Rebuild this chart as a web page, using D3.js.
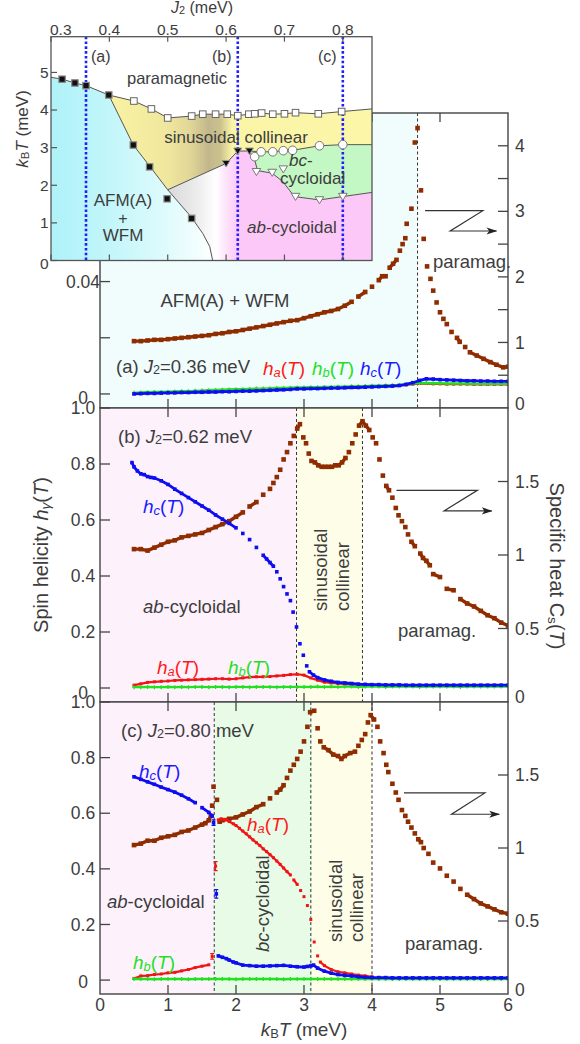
<!DOCTYPE html>
<html><head><meta charset="utf-8">
<script src="https://cdn.jsdelivr.net/npm/d3@7"></script>
<style>body{margin:0;background:#fff} svg{display:block} text{white-space:pre}</style>
</head><body>
<svg id="chart" width="580" height="1044"></svg>
<script>
// ---------------- DATA ----------------
const T10 = [0.5,0.6,0.7,0.8,0.9,1.0,1.1,1.2,1.3,1.4,1.5,1.6,1.7,1.8,1.9,2.0,2.1,2.2,2.3,2.4,2.5,2.6,2.7,2.8,2.9,3.0,3.1,3.2,3.3,3.4,3.5,3.6,3.7,3.8,3.9,4.0,4.1,4.2,4.3,4.4,4.5,4.6,4.7,4.8,4.9,5.0,5.1,5.2,5.3,5.4,5.5,5.6,5.7,5.8,5.9,6.0];
const xTicks = [0,1,2,3,4,5,6];

// panel (a) J2 = 0.36 meV
const transA = [4.67];
const tCa = [0.5,0.6,0.7,0.8,0.9,1.0,1.1,1.2,1.3,1.4,1.5,1.6,1.7,1.8,1.9,2.0,2.1,2.2,2.3,2.4,2.5,2.6,2.7,2.8,2.9,3.0,3.1,3.2,3.3,3.4,3.5,3.6,3.7,3.8,3.9,4.0,4.1,4.15,4.2,4.26,4.31,4.36,4.41,4.45,4.49,4.51,4.58,4.63,4.67,4.72,4.76,4.81,4.86,4.90,4.95,5.0,5.05,5.1,5.17,5.25,5.29,5.37,5.44,5.54,5.64,5.74,5.83,5.93,6.0];
const cA = [1.02,1.02,1.03,1.04,1.04,1.05,1.06,1.07,1.08,1.09,1.10,1.11,1.13,1.14,1.16,1.17,1.19,1.21,1.23,1.25,1.27,1.29,1.31,1.33,1.34,1.37,1.40,1.43,1.46,1.48,1.51,1.56,1.62,1.70,1.77,1.85,1.95,2.01,2.01,2.14,2.20,2.26,2.40,2.50,2.59,2.81,3.04,4.05,4.27,3.32,2.58,2.16,1.97,1.79,1.61,1.46,1.36,1.28,1.16,1.07,1.01,0.93,0.85,0.80,0.75,0.70,0.66,0.62,0.63];
const haA = [0.0002,0.0003,0.0004,0.0005,0.0005,0.0006,0.0007,0.0008,0.0008,0.0009,0.0010,0.0011,0.0012,0.0013,0.0014,0.0015,0.0015,0.0016,0.0017,0.0017,0.0018,0.0019,0.0019,0.0020,0.0021,0.0021,0.0022,0.0022,0.0023,0.0023,0.0024,0.0024,0.0025,0.0025,0.0026,0.0027,0.0027,0.0028,0.0029,0.0030,0.0032,0.0035,0.0037,0.0037,0.0036,0.0036,0.0035,0.0035,0.0035,0.0035,0.0034,0.0034,0.0034,0.0034,0.0034,0.0034];
const hbA = [0.0004,0.0005,0.0006,0.0007,0.0007,0.0008,0.0009,0.0010,0.0010,0.0011,0.0012,0.0013,0.0014,0.0015,0.0016,0.0017,0.0017,0.0018,0.0019,0.0019,0.0020,0.0021,0.0021,0.0022,0.0023,0.0023,0.0024,0.0024,0.0025,0.0025,0.0026,0.0026,0.0027,0.0027,0.0028,0.0029,0.0029,0.0030,0.0031,0.0032,0.0034,0.0037,0.0039,0.0039,0.0038,0.0038,0.0037,0.0037,0.0037,0.0037,0.0036,0.0036,0.0036,0.0036,0.0036,0.0036];
const hcA = [0.0000,0.0001,0.0002,0.0002,0.0003,0.0004,0.0004,0.0005,0.0005,0.0006,0.0006,0.0007,0.0007,0.0008,0.0008,0.0009,0.0010,0.0010,0.0011,0.0012,0.0013,0.0014,0.0015,0.0016,0.0018,0.0018,0.0019,0.0019,0.0020,0.0021,0.0021,0.0022,0.0023,0.0023,0.0024,0.0025,0.0026,0.0027,0.0028,0.0030,0.0034,0.0040,0.0048,0.0054,0.0053,0.0051,0.0050,0.0049,0.0048,0.0047,0.0047,0.0046,0.0046,0.0045,0.0045,0.0045];

// panel (b) J2 = 0.62 meV
const transB = [2.89, 3.86];
const tCb = [0.5,0.6,0.7,0.8,0.9,1.0,1.1,1.2,1.3,1.4,1.5,1.6,1.7,1.8,1.9,2.0,2.1,2.2,2.3,2.4,2.5,2.55,2.6,2.65,2.7,2.75,2.8,2.85,2.9,2.94,2.99,3.03,3.07,3.11,3.16,3.21,3.26,3.31,3.36,3.41,3.46,3.51,3.56,3.61,3.66,3.71,3.76,3.81,3.86,3.91,3.96,4.01,4.06,4.11,4.16,4.21,4.25,4.30,4.35,4.39,4.44,4.49,4.53,4.58,4.63,4.71,4.75,4.80,4.85,4.90,5.0,5.1,5.2,5.3,5.4,5.5,5.6,5.7,5.8,5.9,6.0];
const cB = [1.04,1.04,1.03,1.05,1.07,1.09,1.10,1.12,1.13,1.14,1.15,1.17,1.19,1.21,1.23,1.26,1.29,1.33,1.36,1.41,1.45,1.49,1.53,1.58,1.65,1.70,1.76,1.81,1.86,1.89,1.80,1.76,1.69,1.64,1.63,1.61,1.60,1.60,1.60,1.60,1.61,1.61,1.63,1.66,1.70,1.76,1.82,1.88,1.91,1.88,1.85,1.80,1.76,1.65,1.54,1.47,1.44,1.39,1.32,1.27,1.23,1.19,1.14,1.09,1.06,1.01,0.98,0.96,0.93,0.87,0.85,0.77,0.76,0.70,0.67,0.65,0.62,0.59,0.57,0.54,0.52];
const haB = [0.010,0.015,0.020,0.022,0.024,0.025,0.027,0.028,0.029,0.030,0.031,0.032,0.033,0.033,0.032,0.033,0.036,0.039,0.040,0.040,0.041,0.043,0.045,0.048,0.049,0.046,0.036,0.028,0.021,0.018,0.016,0.014,0.013,0.012,0.011,0.010,0.010,0.009,0.009,0.009,0.008,0.008,0.008,0.008,0.008,0.008,0.008,0.008,0.008,0.008,0.008,0.008,0.008,0.008,0.008,0.008];
const hbB = [0.003,0.003,0.004,0.003,0.003,0.004,0.003,0.004,0.003,0.004,0.004,0.003,0.004,0.004,0.003,0.004,0.004,0.003,0.004,0.004,0.004,0.003,0.004,0.004,0.004,0.004,0.004,0.005,0.004,0.005,0.004,0.005,0.005,0.004,0.005,0.005,0.005,0.004,0.005,0.005,0.005,0.005,0.004,0.005,0.005,0.005,0.005,0.005,0.004,0.005,0.005,0.005,0.005,0.005,0.005,0.005];
const tHcB = [0.47,0.5,0.55,0.6,0.65,0.7,0.75,0.8,0.9,1.0,1.1,1.2,1.3,1.4,1.5,1.6,1.7,1.8,1.9,2.0,2.1,2.2,2.3,2.4,2.45,2.5,2.55,2.6,2.65,2.7,2.75,2.8,2.84,2.89,2.94,2.99,3.04,3.08,3.14,3.2,3.3,3.4,3.5,3.6,3.7,3.8,3.9,4.0,4.1,4.2,4.3,4.4,4.5,4.6,4.7,4.8,4.9,5.0,5.1,5.2,5.3,5.4,5.5,5.6,5.7,5.8,5.9,6.0];
const hcB = [0.805,0.79,0.775,0.765,0.762,0.755,0.752,0.75,0.74,0.727,0.71,0.695,0.68,0.665,0.65,0.635,0.618,0.603,0.588,0.572,0.552,0.53,0.502,0.474,0.461,0.448,0.435,0.415,0.39,0.362,0.336,0.312,0.271,0.218,0.158,0.117,0.079,0.058,0.046,0.037,0.029,0.024,0.020,0.018,0.016,0.014,0.013,0.012,0.012,0.011,0.011,0.011,0.010,0.010,0.010,0.010,0.010,0.010,0.010,0.010,0.010,0.010,0.010,0.010,0.010,0.010,0.010,0.010];

// panel (c) J2 = 0.80 meV
const transC = [1.68, 3.10, 4.0];
const tCc = [0.5,0.6,0.7,0.8,0.9,1.0,1.1,1.2,1.3,1.4,1.5,1.55,1.6,1.63,1.65,1.67,1.72,1.76,1.8,1.9,2.0,2.1,2.2,2.3,2.4,2.5,2.6,2.65,2.7,2.75,2.8,2.85,2.9,2.95,3.0,3.05,3.09,3.15,3.20,3.24,3.29,3.36,3.43,3.50,3.55,3.60,3.68,3.75,3.80,3.85,3.90,3.94,3.98,4.03,4.08,4.12,4.17,4.21,4.24,4.30,4.35,4.39,4.44,4.49,4.53,4.58,4.63,4.68,4.72,4.76,4.83,4.90,5.0,5.1,5.2,5.3,5.4,5.5,5.6,5.7,5.8,5.9,6.0];
const cC = [1.02,1.03,1.05,1.05,1.07,1.08,1.09,1.11,1.12,1.14,1.16,1.17,1.19,1.22,1.29,1.42,1.33,1.18,1.19,1.20,1.21,1.23,1.25,1.28,1.30,1.34,1.38,1.40,1.43,1.48,1.53,1.57,1.61,1.66,1.73,1.83,1.93,1.94,1.82,1.73,1.69,1.67,1.64,1.63,1.61,1.63,1.65,1.66,1.70,1.74,1.78,1.86,1.91,1.88,1.83,1.73,1.65,1.57,1.52,1.44,1.38,1.33,1.26,1.22,1.18,1.14,1.10,1.06,1.04,1.00,0.96,0.90,0.86,0.81,0.77,0.72,0.68,0.65,0.62,0.60,0.58,0.56,0.55];
const tHaC = [0.5,0.6,0.7,0.8,0.9,1.0,1.1,1.2,1.3,1.4,1.5,1.6,1.65,1.70,1.74,1.78,1.82,1.86,1.9,1.96,2.0,2.05,2.1,2.15,2.2,2.25,2.3,2.35,2.4,2.45,2.5,2.55,2.6,2.65,2.7,2.75,2.8,2.85,2.9,2.95,3.0,3.05,3.1,3.15,3.2,3.24,3.3,3.4,3.5,3.6,3.7,3.8,3.9,4.0];
const haC = [0.006,0.015,0.016,0.020,0.022,0.026,0.028,0.033,0.038,0.045,0.050,0.055,0.085,0.410,0.576,0.580,0.578,0.576,0.570,0.562,0.556,0.546,0.536,0.526,0.515,0.504,0.494,0.484,0.472,0.462,0.451,0.440,0.428,0.416,0.403,0.390,0.378,0.360,0.344,0.322,0.300,0.268,0.218,0.137,0.087,0.065,0.052,0.038,0.030,0.026,0.022,0.018,0.015,0.012];
const hbC = [0.004,0.004,0.004,0.003,0.004,0.004,0.004,0.004,0.003,0.004,0.004,0.004,0.004,0.004,0.004,0.003,0.004,0.004,0.004,0.004,0.004,0.004,0.003,0.004,0.004,0.004,0.004,0.004,0.004,0.004,0.004,0.004,0.004,0.004,0.004,0.004,0.004,0.004,0.004,0.004,0.004,0.004,0.004,0.004,0.004,0.004,0.004,0.004,0.004,0.004,0.004,0.004,0.004,0.004,0.004,0.004];
const tHcC = [0.5,0.6,0.7,0.8,0.9,1.0,1.1,1.2,1.3,1.4,1.5,1.6,1.65,1.67,1.71,1.74,1.8,1.86,1.9,1.96,2.0,2.1,2.2,2.3,2.4,2.5,2.6,2.7,2.8,2.9,3.0,3.05,3.1,3.14,3.2,3.3,3.4,3.5,3.6,3.7,3.8,3.9,4.0,4.1,4.2,4.3,4.4,4.5,4.6,4.7,4.8,4.9,5.0,5.1,5.2,5.3,5.4,5.5,5.6,5.7,5.8,5.9,6.0];
const hcC = [0.731,0.722,0.713,0.704,0.694,0.685,0.676,0.665,0.652,0.638,0.620,0.603,0.590,0.566,0.310,0.087,0.082,0.077,0.072,0.065,0.062,0.054,0.052,0.050,0.050,0.051,0.052,0.053,0.050,0.048,0.047,0.049,0.051,0.054,0.043,0.032,0.025,0.020,0.017,0.015,0.012,0.010,0.009,0.009,0.009,0.008,0.008,0.008,0.008,0.008,0.008,0.008,0.008,0.008,0.008,0.008,0.008,0.008,0.008,0.008,0.008,0.008,0.008];
// error bars at the ab->bc transition of panel (c)
const errT = [1.67, 1.71, 1.65, 1.70];
const errV = [0.566, 0.310, 0.085, 0.410];
const errE = [0.010, 0.015, 0.010, 0.016];
const errS = ['c', 'c', 'a', 'a'];

// "Z" arrow pointers (T, Cs) meaning "right axis"
const zA = [[4.78,3.01],[5.63,3.01],[5.15,2.70],[5.83,2.70]];
const zB = [[4.36,1.44],[5.55,1.44],[5.06,1.30],[5.76,1.30]];
const zC = [[4.47,1.377],[5.66,1.377],[5.17,1.231],[5.87,1.231]];

// ---- inset phase diagram (J2, kBT) ----
const jTicks = [0.3,0.4,0.5,0.6,0.7,0.8];
const kTicks = [0,1,2,3,4,5];
const jCuts = [0.36, 0.62, 0.80];
const jCutLabels = ['(a)','(b)','(c)'];
const bPara = [[0.30,4.87],[0.319,4.82],[0.341,4.72],[0.360,4.65],[0.399,4.40],[0.442,4.24],[0.472,4.03],[0.500,3.79],[0.541,3.84],[0.560,3.89],[0.582,3.89],[0.602,3.89],[0.620,3.85],[0.639,3.89],[0.649,3.90],[0.661,3.92],[0.680,3.89],[0.700,3.90],[0.719,3.93],[0.758,3.90],[0.798,3.96],[0.85,4.03]];
const bAfm = [[0.399,4.40],[0.441,3.07],[0.470,2.49],[0.500,1.88],[0.540,1.16],[0.560,0.72],[0.572,0.37],[0.577,0]];
const bYel = [[0.500,1.88],[0.600,2.58],[0.620,2.91],[0.640,2.91],[0.660,2.89],[0.680,2.89],[0.698,2.92],[0.714,2.93],[0.760,3.05],[0.800,3.08],[0.85,3.08]];
const bGreen = [[0.640,2.91],[0.649,2.67],[0.654,2.39],[0.679,2.32],[0.697,2.10],[0.717,1.70],[0.760,1.61],[0.800,1.70],[0.85,1.81]];
const ptSqFilled = [[0.319,4.82],[0.341,4.72],[0.360,4.65],[0.399,4.40],[0.441,3.07],[0.469,2.49],[0.499,1.64],[0.541,1.12]];
const ptSqOpen = [[0.442,4.24],[0.472,4.03],[0.500,3.79],[0.541,3.84],[0.560,3.89],[0.582,3.89],[0.602,3.89],[0.620,3.85],[0.639,3.89],[0.649,3.90],[0.661,3.92],[0.680,3.89],[0.700,3.90],[0.719,3.93],[0.758,3.90],[0.798,3.96]];
const ptTriFilled = [[0.600,2.58],[0.620,2.91],[0.640,2.91]];
const ptCircle = [[0.649,2.76],[0.660,2.89],[0.680,2.89],[0.698,2.92],[0.714,2.93],[0.760,3.05],[0.800,3.08]];
const ptTriOpen = [[0.652,2.36],[0.679,2.34],[0.698,2.43],[0.719,1.70],[0.760,1.61],[0.800,1.70]];

// ---------------- DRAWING ----------------
const FONT = "'Liberation Sans', Arial, Helvetica, sans-serif";
const TXT = '#3d3d3d';
const COL = {C:'#8f2d00', a:'#f01414', b:'#22e022', c:'#0d0df2', la:'#ff1a1a', lb:'#1fe01f', lc:'#1a1aff'};
const svg = d3.select('#chart');
const defs = svg.append('defs');
defs.append('marker').attr('id','ah').attr('viewBox','0 0 12 10').attr('refX',11).attr('refY',5)
  .attr('markerWidth',12).attr('markerHeight',9).attr('markerUnits','userSpaceOnUse').attr('orient','auto')
  .append('path').attr('d','M0,1 L12,5 L0,9 L3,5 Z').attr('fill','#222');

function rich(g, x0, y0, parts, o) {
  o = Object.assign({size:18.5, anchor:'start', color:TXT, rotate:0}, o);
  const t = g.append('text').attr('x',x0).attr('y',y0).attr('font-family',FONT)
    .attr('font-size',o.size).attr('fill',o.color).attr('text-anchor',o.anchor);
  if (o.rotate) t.attr('transform',`rotate(${o.rotate},${x0},${y0})`);
  let down = false;
  parts.forEach(p => {
    const [s, st] = Array.isArray(p) ? [p[0], p[1]||''] : [p, ''];
    const sp = t.append('tspan').text(s);
    if (st.includes('i')) sp.attr('font-style','italic');
    if (st.includes('s')) { sp.attr('font-size', o.size*0.68); if (!down) { sp.attr('dy', o.size*0.08); down = true; } }
    else if (down) { sp.attr('dy', -o.size*0.08); down = false; }
  });
  return t;
}

const x = d3.scaleLinear([0,6],[100,508]);
const line = d3.line();

function drawSeries(g, ts, vs, ys, color, o) {
  const n = Math.min(ts.length, vs.length);
  const pts = [];
  for (let i = 0; i < n; i++) pts.push([x(ts[i]), ys(vs[i])]);
  const runs = []; let cur = [pts[0]];
  for (let i = 1; i < n; i++) {
    const dx = Math.abs(pts[i][0]-pts[i-1][0]), dy = Math.abs(pts[i][1]-pts[i-1][1]);
    if (dx <= o.gx && dy <= o.gy) cur.push(pts[i]); else { runs.push(cur); cur = [pts[i]]; }
  }
  runs.push(cur);
  runs.filter(r => r.length > 1).forEach(r => g.append('path').attr('d', line(r)).attr('fill','none')
    .attr('stroke', color).attr('stroke-width', o.lw).attr('stroke-linejoin','round'));
  if (o.shape === 'square') {
    g.selectAll(null).data(pts).join('rect').attr('x', d => d[0]-o.s/2).attr('y', d => d[1]-o.s/2)
      .attr('width', o.s).attr('height', o.s).attr('fill', color);
  } else {
    g.selectAll(null).data(pts).join('path')
      .attr('d', d => `M${d[0]-o.s/2},${d[1]}h${o.s}M${d[0]},${d[1]-o.s/2}v${o.s}`)
      .attr('stroke', color).attr('stroke-width', 1.3);
  }
}

const panels = [
  {key:'a', top:113, bot:408, h:d3.scaleLinear([-0.005,0.1],[408,113]), c:d3.scaleLinear([0,4.5],[408,113]),
   bands:[[0, transA[0], '#f1fcfd']], trans:transA, z:zA,
   hTicks:[0,0.02,0.04,0.06,0.08], hLab:{'0.04':'0.04','0.08':'0.08'}, hZero:398,
   cTicks:[0.5,1,1.5,2,2.5,3,3.5,4], cLab:{'1':'1','2':'2','3':'3','4':'4'}, cZero:404,
   C:[tCa,cA], ha:[T10,haA], hb:[T10,hbA], hc:[T10,hcA]},
  {key:'b', top:408, bot:702, h:d3.scaleLinear([-0.05,1.0],[702,408]), c:d3.scaleLinear([0,2],[702,408]),
   bands:[[0, transB[0], '#fdf1fc'], [transB[0], transB[1], '#fefee8']], trans:transB, z:zB,
   hTicks:[0,0.2,0.4,0.6,0.8,1.0], hLab:{'0.2':'0.2','0.4':'0.4','0.6':'0.6','0.8':'0.8','1':'1.0'}, hZero:693,
   cTicks:[0.5,1,1.5], cLab:{'0.5':'0.5','1':'1','1.5':'1.5'}, cZero:697,
   C:[tCb,cB], ha:[T10,haB], hb:[T10,hbB], hc:[tHcB,hcB]},
  {key:'c', top:702, bot:994, h:d3.scaleLinear([-0.05,1.0],[994,702]), c:d3.scaleLinear([0,2],[994,702]),
   bands:[[0, transC[0], '#fdf1fc'], [transC[0], transC[1]+0.02, '#e7fbe7'], [transC[1]+0.02, transC[2], '#fefee8']], trans:transC, z:zC,
   hTicks:[0,0.2,0.4,0.6,0.8,1.0], hLab:{'0.2':'0.2','0.4':'0.4','0.6':'0.6','0.8':'0.8','1':'1.0'}, hZero:982,
   cTicks:[0.5,1,1.5], cLab:{'0.5':'0.5','1':'1','1.5':'1.5'}, cZero:990,
   C:[tCc,cC], ha:[tHaC,haC], hb:[T10,hbC], hc:[tHcC,hcC]},
];

panels.forEach(p => {
  const clipId = 'clip-' + p.key;
  defs.append('clipPath').attr('id', clipId).append('rect')
    .attr('x', x(0)).attr('y', p.top).attr('width', x(6)-x(0)).attr('height', p.bot-p.top);
  const g = svg.append('g');
  const gc = g.append('g').attr('clip-path', `url(#${clipId})`);
  gc.append('rect').attr('x', x(0)).attr('y', p.top).attr('width', x(6)-x(0)).attr('height', p.bot-p.top).attr('fill', '#fff');
  p.bands.forEach(b => gc.append('rect').attr('x', x(b[0])).attr('y', p.top).attr('width', x(b[1])-x(b[0]))
    .attr('height', p.bot-p.top).attr('fill', b[2]));
  p.trans.forEach(t => gc.append('line').attr('x1', x(t)).attr('x2', x(t)).attr('y1', p.top).attr('y2', p.bot)
    .attr('stroke', '#333').attr('stroke-width', 1).attr('stroke-dasharray', '3,2.5'));
  // data
  drawSeries(gc, p.C[0], p.C[1], p.c, COL.C, {gx:8, gy:5, lw:3.4, shape:'square', s:4.6});
  drawSeries(gc, p.ha[0], p.ha[1], p.h, COL.a, {gx:8, gy:5, lw:2.2, shape:'square', s:3});
  drawSeries(gc, p.hb[0], p.hb[1], p.h, COL.b, {gx:8, gy:5, lw:2.4, shape:'cross', s:4});
  drawSeries(gc, p.hc[0], p.hc[1], p.h, COL.c, {gx:8, gy:5, lw:2.8, shape:'square', s:3.6});
  if (p.key === 'c') {
    errT.forEach((t, i) => {
      const col = errS[i] === 'c' ? COL.c : COL.a;
      const x0 = x(t), y1 = p.h(errV[i]-errE[i]), y2 = p.h(errV[i]+errE[i]);
      gc.append('path').attr('d', `M${x0},${y1}V${y2}M${x0-2},${y1}h4M${x0-2},${y2}h4`).attr('stroke', col).attr('stroke-width', 1.2).attr('fill','none');
    });
  }
  // Z arrow toward right axis
  gc.append('path').attr('d', line(p.z.map(d => [x(d[0]), p.c(d[1])]))).attr('fill','none')
    .attr('stroke', '#333').attr('stroke-width', 1.2).attr('marker-end', 'url(#ah)');
  // frame
  g.append('rect').attr('x', x(0)).attr('y', p.top).attr('width', x(6)-x(0)).attr('height', p.bot-p.top)
    .attr('fill','none').attr('stroke','#444').attr('stroke-width',1.4);
  // x ticks (inward, top and bottom)
  xTicks.slice(1, -1).forEach(t => {
    g.append('line').attr('x1', x(t)).attr('x2', x(t)).attr('y1', p.bot).attr('y2', p.bot-9).attr('stroke','#444').attr('stroke-width',1.3);
    g.append('line').attr('x1', x(t)).attr('x2', x(t)).attr('y1', p.top).attr('y2', p.top+9).attr('stroke','#444').attr('stroke-width',1.3);
  });
  // left ticks and labels
  p.hTicks.forEach(v => {
    g.append('line').attr('x1', x(0)).attr('x2', x(0)+10).attr('y1', p.h(v)).attr('y2', p.h(v)).attr('stroke','#444').attr('stroke-width',1.3);
    const lab = p.hLab[String(v)];
    if (lab) g.append('text').attr('x', 83).attr('y', p.h(v)).attr('dy','0.35em').attr('text-anchor','middle')
      .attr('font-family', FONT).attr('font-size', 17.5).attr('fill', TXT).text(lab);
  });
  g.append('text').attr('x', 83).attr('y', p.hZero).attr('dy','0.35em').attr('text-anchor','middle')
    .attr('font-family', FONT).attr('font-size', 17.5).attr('fill', TXT).text('0');
  // right ticks and labels
  p.cTicks.forEach(v => {
    g.append('line').attr('x1', x(6)).attr('x2', x(6)-10).attr('y1', p.c(v)).attr('y2', p.c(v)).attr('stroke','#444').attr('stroke-width',1.3);
    const lab = p.cLab[String(v)];
    if (lab) g.append('text').attr('x', 515).attr('y', p.c(v)).attr('dy','0.35em').attr('text-anchor','start')
      .attr('font-family', FONT).attr('font-size', 17.5).attr('fill', TXT).text(lab);
  });
  g.append('text').attr('x', 515).attr('y', p.cZero).attr('dy','0.35em').attr('text-anchor','start')
    .attr('font-family', FONT).attr('font-size', 17.5).attr('fill', TXT).text('0');
  p.g = g;
});

// x tick labels + title
xTicks.forEach(t => svg.append('text').attr('x', x(t)).attr('y', 1011).attr('text-anchor','middle')
  .attr('font-family', FONT).attr('font-size', 17.5).attr('fill', TXT).text(String(t)));
const ga = svg.append('g');
rich(ga, 304, 1036, [['k','i'],['B','s'],['T','i'],' (meV)'], {size:19, anchor:'middle'});
rich(ga, 48, 555, ['Spin helicity ', ['h','i'], ['γ','is'], '(', ['T','i'], ')'], {size:20, anchor:'middle', rotate:-90});
rich(ga, 550, 566, ['Specific heat C', ['s','s'], '(', ['T','i'], ')'], {size:20, anchor:'middle', rotate:90});

// panel annotations
const hl = (g, x0, y0, sub, col) => rich(g, x0, y0, [['h','i'], [sub,'is'], '(', ['T','i'], ')'], {size:19, color:col});
// (a)
rich(ga, 225, 307, ['AFM(A) + WFM'], {anchor:'middle'});
rich(ga, 433, 268, ['paramag.']);
rich(ga, 116, 373, ['(a) ', ['J','i'], ['2','s'], '=0.36 meV']);
hl(ga, 263, 375, 'a', COL.la); hl(ga, 312, 375, 'b', COL.lb); hl(ga, 360, 375, 'c', COL.lc);
// (b)
rich(ga, 118, 443, ['(b) ', ['J','i'], ['2','s'], '=0.62 meV']);
hl(ga, 143, 513, 'c', COL.lc);
rich(ga, 143, 613, [['ab','i'], '-cycloidal']);
hl(ga, 157, 674, 'a', COL.la); hl(ga, 228, 674, 'b', COL.lb);
rich(ga, 326.5, 611, ['sinusoidal'], {rotate:-90});
rich(ga, 349, 611, ['collinear'], {rotate:-90});
rich(ga, 398, 637, ['paramag.']);
// (c)
rich(ga, 121, 737, ['(c) ', ['J','i'], ['2','s'], '=0.80 meV']);
hl(ga, 139, 778, 'c', COL.lc);
hl(ga, 247, 831, 'a', COL.la);
rich(ga, 107, 908, [['ab','i'], '-cycloidal']);
hl(ga, 133, 969, 'b', COL.lb);
rich(ga, 268.5, 952, [['bc','i'], '-cycloidal'], {rotate:-90});
rich(ga, 341.5, 942, ['sinusoidal'], {rotate:-90});
rich(ga, 363, 942, ['collinear'], {rotate:-90});
rich(ga, 405, 950, ['paramag.']);

// ---------------- INSET ----------------
const jx = d3.scaleLinear([0.3,0.85],[51,372]);
const jy = d3.scaleLinear([0,5.95],[260.5,36.7]);
const jl = d3.line().x(d => jx(d[0])).y(d => jy(d[1]));
const gi = svg.append('g');
defs.append('clipPath').attr('id','clip-in').append('rect').attr('x', jx(0.3)).attr('y', jy(5.95))
  .attr('width', jx(0.85)-jx(0.3)).attr('height', jy(0)-jy(5.95));
function grad(id, stops) {
  const lg = defs.append('linearGradient').attr('id', id).attr('gradientUnits','userSpaceOnUse')
    .attr('x1', jx(0.3)).attr('x2', jx(0.85)).attr('y1', 0).attr('y2', 0);
  stops.forEach(s => lg.append('stop').attr('offset', (s[0]-0.3)/0.55).attr('stop-color', s[1]));
}
grad('gCyan', [[0.3,'#aef2f8'],[0.4,'#c2f6fa'],[0.5,'#e0fbfc'],[0.56,'#f6fefe'],[0.58,'#ffffff']]);
grad('gYel', [[0.40,'#f9f2a3'],[0.50,'#f0e79e'],[0.54,'#e0d597'],[0.57,'#c2b78b'],[0.59,'#cbc18e'],[0.61,'#faf4a7'],[0.85,'#fbf6a8']]);
grad('gPink', [[0.50,'#d9d9d9'],[0.55,'#ececec'],[0.583,'#ffffff'],[0.60,'#fde4fb'],[0.62,'#fcc8f8'],[0.85,'#fcc8f8']]);

const gic = gi.append('g').attr('clip-path','url(#clip-in)');
gic.append('rect').attr('x', jx(0.3)).attr('y', jy(5.95)).attr('width', jx(0.85)-jx(0.3)).attr('height', jy(0)-jy(5.95)).attr('fill','#fff');
const cyanPoly = [[0.3,0]].concat(bPara.slice(0,4), bAfm);
const yelPoly = bPara.slice(4).concat(bYel.slice().reverse(), [bAfm[2], bAfm[1]]);
const greenPoly = bYel.slice(3).concat(bGreen.slice().reverse());
const pinkPoly = bAfm.slice(3).concat([[0.85,0]], bGreen.slice().reverse(), [bYel[2], bYel[1]]);
gic.append('path').attr('d', jl(cyanPoly)+'Z').attr('fill','url(#gCyan)');
gic.append('path').attr('d', jl(yelPoly)+'Z').attr('fill','url(#gYel)');
gic.append('path').attr('d', jl(pinkPoly)+'Z').attr('fill','url(#gPink)');
gic.append('path').attr('d', jl(greenPoly)+'Z').attr('fill','#c3f7c3');
[bPara, bAfm, bYel, bGreen].forEach(b => gic.append('path').attr('d', jl(b)).attr('fill','none').attr('stroke','#555').attr('stroke-width',1));
jCuts.forEach(j => gic.append('line').attr('x1', jx(j)).attr('x2', jx(j)).attr('y1', jy(5.95)).attr('y2', jy(0))
  .attr('stroke','#1f1fff').attr('stroke-width',2.6).attr('stroke-dasharray','2.6,2.2'));
// markers
gic.selectAll(null).data(ptSqFilled).join('rect').attr('x', d => jx(d[0])-3.2).attr('y', d => jy(d[1])-3.2)
  .attr('width',6.4).attr('height',6.4).attr('fill','#111').attr('stroke','#8a8a8a').attr('stroke-width',1.2);
gic.selectAll(null).data(ptSqOpen).join('rect').attr('x', d => jx(d[0])-3.3).attr('y', d => jy(d[1])-3.3)
  .attr('width',6.6).attr('height',6.6).attr('fill','#fff').attr('stroke','#666').attr('stroke-width',1);
const tri = s => `M${-s},${-s*0.75}L${s},${-s*0.75}L0,${s*0.9}Z`;
gic.selectAll(null).data(ptTriFilled).join('path').attr('transform', d => `translate(${jx(d[0])},${jy(d[1])})`)
  .attr('d', tri(4)).attr('fill','#111').attr('stroke','#999').attr('stroke-width',1);
gic.selectAll(null).data(ptCircle).join('circle').attr('cx', d => jx(d[0])).attr('cy', d => jy(d[1])).attr('r',4.3)
  .attr('fill','#fff').attr('stroke','#777').attr('stroke-width',1);
gic.selectAll(null).data(ptTriOpen).join('path').attr('transform', d => `translate(${jx(d[0])},${jy(d[1])})`)
  .attr('d', tri(4.3)).attr('fill','#fff').attr('stroke','#777').attr('stroke-width',1);
// frame, ticks, labels
gi.append('rect').attr('x', jx(0.3)).attr('y', jy(5.95)).attr('width', jx(0.85)-jx(0.3)).attr('height', jy(0)-jy(5.95))
  .attr('fill','none').attr('stroke','#555').attr('stroke-width',1.3);
jTicks.forEach(j => {
  gi.append('line').attr('x1', jx(j)).attr('x2', jx(j)).attr('y1', jy(0)).attr('y2', jy(0)-6).attr('stroke','#555').attr('stroke-width',1.2);
  gi.append('line').attr('x1', jx(j)).attr('x2', jx(j)).attr('y1', jy(5.95)).attr('y2', jy(5.95)+5).attr('stroke','#555').attr('stroke-width',1.2);
  const first = j === jTicks[0];
  gi.append('text').attr('x', first ? jx(j)-1 : jx(j)).attr('y', 35).attr('text-anchor', first ? 'start' : 'middle')
    .attr('font-family', FONT).attr('font-size', 15.5).attr('fill', TXT).text(j.toFixed(1));
});
kTicks.forEach(k => {
  gi.append('line').attr('x1', jx(0.3)).attr('x2', jx(0.3)+6).attr('y1', jy(k)).attr('y2', jy(k)).attr('stroke','#555').attr('stroke-width',1.2);
  gi.append('text').attr('x', 48.5).attr('y', jy(k) + (k === 0 ? 3 : 0)).attr('dy','0.35em').attr('text-anchor','end')
    .attr('font-family', FONT).attr('font-size', 15.5).attr('fill', TXT).text(String(k));
});
rich(gi, 202, 13, [['J','i'], ['2','s'], ' (meV)'], {size:16, anchor:'middle'});
rich(gi, 28, 129, [['k','i'], ['B','s'], ['T','i'], ' (meV)'], {size:17, anchor:'middle', rotate:-90});
jCuts.forEach((j, i) => rich(gi, [91, 212, 318][i], 62, [jCutLabels[i]], {size:16}));
rich(gi, 177, 84, ['paramagnetic'], {size:16.5, anchor:'middle'});
rich(gi, 236, 143, ['sinusoidal collinear'], {size:17, anchor:'middle'});
rich(gi, 289, 166, [['bc','i'], '-'], {size:17});
rich(gi, 280, 184, ['cycloidal'], {size:17});
rich(gi, 123, 206, ['AFM(A)'], {size:17, anchor:'middle'});
rich(gi, 123, 224, ['+'], {size:16, anchor:'middle'});
rich(gi, 123, 241, ['WFM'], {size:17, anchor:'middle'});
rich(gi, 247, 233, [['ab','i'], '-cycloidal'], {size:17});
</script>
</body></html>
